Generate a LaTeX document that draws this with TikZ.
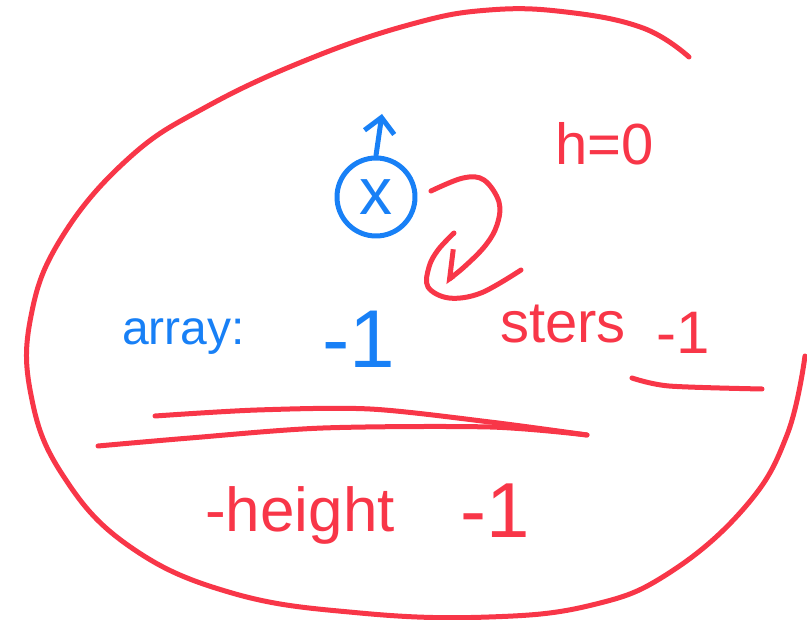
\documentclass[tikz,border=0pt]{standalone}
\usepackage{fontspec}
\setmainfont{Liberation Sans}
\usetikzlibrary{positioning}
\usetikzlibrary{arrows.meta}
\definecolor{penred}{RGB}{248,54,72}
\definecolor{penblue}{RGB}{24,128,246}
\newcommand{\handsize}[1]{\fontsize{#1}{#1}\selectfont}
\tikzset{ink/.style = {line width = 5pt, line cap = round, line join = round}}
\tikzset{redink/.style = {ink, draw = penred}}
\tikzset{blueink/.style = {ink, draw = penblue}}
\tikzset{lbl/.style = {inner sep = 0, anchor = base west}}

\begin{document}
\begin{tikzpicture}[x=1pt, y=-1pt]
    \useasboundingbox (0,0) rectangle (807,620);
    % big loop round everything
    \draw[redink] plot[smooth, tension=0.7] coordinates {(689,57) (643,28) (566,12) (489,10) (412,24) (309,59) (206,107) (129,158) (62,237) (31,316) (31,395) (62,474) (129,546) (232,593) (360,613) (489,617) (592,605) (669,573) (746,506) (787,435) (805,356)};
    % the x node and its arrow
    \node[blueink, circle, minimum size = 78pt, inner sep = 0, text = penblue, font = \handsize{66}] (xnode) at (376,197) {x};
    \coordinate (xtop) at (382,114);
    \draw[blueink, -{Straight Barb[length=15pt, width=30pt]}] (xnode.north) -- (xtop);
    % hook arrow
    \coordinate (hookstart) at (431,191);
    \coordinate (hookend) at (445,282);
    \draw[redink, -{Straight Barb[right, length=20pt, width=44pt]}] plot[smooth, tension=0.6] coordinates {(hookstart) (463,178) (484,180) (499,202) (497,225) (485,246) (463,268) (hookend)};
    \draw[redink] plot[smooth, tension=0.6] coordinates {(454,233) (438,250) (429,267) (428,287) (449,298) (481,293) (521,270)};
    % labels
    \node[lbl, text = penred, font = \handsize{58}] (hzero) at (555,165) {h=0};
    \node[lbl, text = penblue, font = \handsize{48}] (arraylbl) at (122,345) {array:};
    \node[lbl, text = penblue, font = \handsize{82}] (arrval) at (322,368) {-1};
    \node[lbl, text = penred, font = \handsize{58}] (sterslbl) at (500,343) {sters};
    \node[lbl, text = penred, font = \handsize{60}] (stersval) at (656,354) {-1};
    \node[lbl, text = penred, font = \handsize{62}] (heightlbl) at (205,532) {-height};
    \node[lbl, text = penred, font = \handsize{78}] (heightval) at (460,538) {-1};
    % underline and the two long strokes
    \draw[redink] plot[smooth] coordinates {(632,378) (669,386) (762,389)};
    \draw[redink] plot[smooth] coordinates {(155,416) (257,410) (370,409) (490,422) (587,435)};
    \draw[redink] plot[smooth] coordinates {(98,446) (190,438) (323,428) (490,427) (587,435)};
\end{tikzpicture}
\end{document}
